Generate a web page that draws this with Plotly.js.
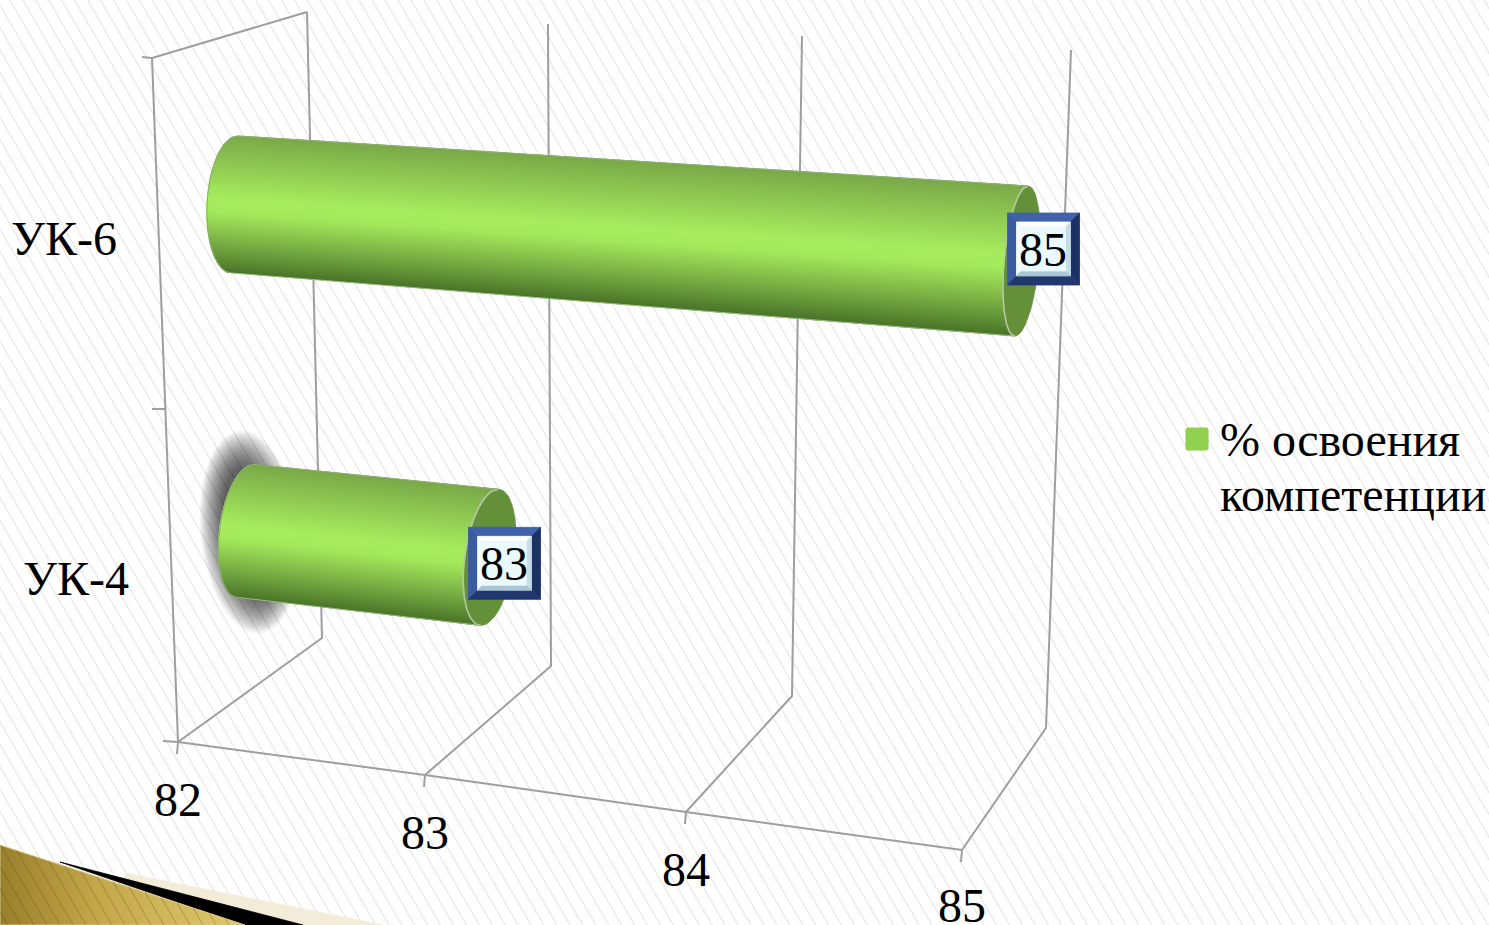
<!DOCTYPE html>
<html><head><meta charset="utf-8">
<script src="https://cdn.plot.ly/plotly-3.0.1.min.js"></script>
<style>
html,body{margin:0;padding:0;width:1489px;height:925px;overflow:hidden;background-color:#fff;
background-image:repeating-linear-gradient(60deg,#ebebeb 0,#ebebeb 1.4px,#fff 1.4px,#fff 11.2px);}
#chart{width:1489px;height:925px}
</style></head><body><div id="chart"></div>
<script>
// ---- chart data ----
const categories = ['УК-6', 'УК-4'];
const values = [85, 83];
const axisTicks = [82, 83, 84, 85];
const seriesName = '% освоения<br>компетенции';

// ---- perspective frame (pixel geometry of the 3-D box) ----
const frontFloor = [[178,742],[425,775],[686,812],[962,850]];
const backFloor  = [[322,638],[551,666],[792,696],[1046,728]];
const backTop    = [[307,12],[548,24],[802,36],[1071,50]];
const wallTop = [152,58];
const catLabelPos = [[119,238],[131,578]];
const tickLabelDrop = [57,57,57,55];
// cylinder axis at v=82 and v=85: centre, semi-axis vector, horizontal radius
const barGeom = [
  {a:{c:[235,204.5],u:[3,-68.5],r:28}, b:{c:[1021.5,261],u:[6.5,-75],r:17.5}, box:[22,-12]},
  {a:{c:[246,531],u:[7.5,-66.5],r:26.5}, b:{c:[1019,614.6],u:[10.7,-71.6],r:21.7}, box:[15,6]}
];
const shade = [[0,'#7aa848'],[.12,'#86bb4e'],[.45,'#a7ec5e'],[.55,'#a5ea5c'],[.75,'#7fb647'],[.9,'#5f8f36'],[1,'#4a7428']];

const traces = [];
const annotations = [];
const FONT = '"Liberation Serif","Times New Roman",serif';
const base = {hoverinfo:'skip', showlegend:false};
const GRID = '#9e9e9e';
const mix = (a,b,t)=>a+(b-a)*t;
// fraction along the value axis, from the tick spacing of the front edge
function axisFrac(v){
  const span = frontFloor[3][0]-frontFloor[0][0];
  const i = Math.min(Math.max(Math.floor(v-axisTicks[0]),0),2), f = v-axisTicks[i];
  return (mix(frontFloor[i][0],frontFloor[i+1][0],f)-frontFloor[0][0])/span;
}
function hex(c){return [1,3,5].map(i=>parseInt(c.substr(i,2),16));}
function ramp(p){
  for(let i=1;i<shade.length;i++) if(p<=shade[i][0]){
    const t=(p-shade[i-1][0])/(shade[i][0]-shade[i-1][0]);
    const A=hex(shade[i-1][1]),B=hex(shade[i][1]);
    return `rgb(${A.map((x,k)=>Math.round(mix(x,B[k],t))).join(',')})`;
  }
  return shade[shade.length-1][1];
}
function poly(xs,ys,color,lw){
  traces.push(Object.assign({type:'scatter',mode:'lines',x:xs,y:ys,fill:'toself',fillcolor:color,line:{color:color,width:lw===undefined?0.8:lw}},base));
}
function path(xs,ys,color,width){
  traces.push(Object.assign({type:'scatter',mode:'lines',x:xs,y:ys,line:{color:color,width:width}},base));
}

// ---- frame ----
axisTicks.forEach((v,i)=>{
  path([frontFloor[i][0],backFloor[i][0],backTop[i][0]],[frontFloor[i][1],backFloor[i][1],backTop[i][1]],GRID,2);
  path([frontFloor[i][0],frontFloor[i][0]-1],[frontFloor[i][1],frontFloor[i][1]+12],GRID,2);
  annotations.push({x:frontFloor[i][0],y:frontFloor[i][1]+tickLabelDrop[i],text:String(v),showarrow:false,xanchor:'center',yanchor:'middle',font:{family:FONT,size:48,color:'#000'}});
});
path(frontFloor.map(p=>p[0]),frontFloor.map(p=>p[1]),GRID,2);
path([frontFloor[0][0],wallTop[0],backTop[0][0]],[frontFloor[0][1],wallTop[1],backTop[0][1]],GRID,2);
[[wallTop[0]-10,wallTop[1]-1,wallTop[0],wallTop[1]],[152,409,165,409],[163,741,178,742]].forEach(t=>path([t[0],t[2]],[t[1],t[3]],GRID,2));

// ---- slide decoration, bottom-left ----
poly([125,383,125,125],[873,925,925,873],'#f3ecd9');
poly([60,303,245,60],[862,925,925,862],'#000000');
traces.push(Object.assign({type:'scatter',mode:'lines',x:[0,245,0,0],y:[845,925,925,845],fill:'toself',
  fillgradient:{type:'horizontal',colorscale:[[0,'#9a7f2c'],[.4,'#c4a84a'],[1,'#e0c86e']]},line:{color:'#d8c98e',width:1}},base));
const hx=[],hy=[];
for(let a=8;a<250;a+=13){
  let tx=(a-46.4)/0.8106, ty=845+0.3265*tx;
  if(tx<0){tx=0;ty=925-a/0.58;}
  hx.push(a,tx,null);hy.push(925,ty,null);
}
path(hx,hy,'rgba(80,60,10,0.22)',1.2);

// ---- soft shadow behind the lower bar ----
for(let k=0;k<36;k++){
  const f=k/35, rx=50-24*f, ry=102-38*f, xs=[],ys=[];
  for(let i=0;i<=48;i++){const t=i/48*2*Math.PI;xs.push(250+8*Math.cos(t)+rx*Math.sin(t));ys.push(532+ry*Math.cos(t));}
  traces.push(Object.assign({type:'scatter',mode:'lines',x:xs,y:ys,fill:'toself',fillcolor:'rgba(0,0,0,0.024)',line:{width:0}},base));
}

// ---- cylinders ----
const N=120;
categories.forEach((cat,b)=>{
  const g=barGeom[b], t=axisFrac(values[b]);
  const end={c:[mix(g.a.c[0],g.b.c[0],t),mix(g.a.c[1],g.b.c[1],t)],u:[mix(g.a.u[0],g.b.u[0],t),mix(g.a.u[1],g.b.u[1],t)],r:mix(g.a.r,g.b.r,t)};
  const pt=(e,p)=>{const co=1-2*p,si=Math.sqrt(Math.max(0,1-co*co));return [e.c[0]+e.u[0]*co-e.r*si,e.c[1]+e.u[1]*co];};
  // far end cap
  const cx=[],cy=[];
  for(let i=0;i<=72;i++){const a=i/72*2*Math.PI;cx.push(end.c[0]+end.u[0]*Math.cos(a)+end.r*Math.sin(a));cy.push(end.c[1]+end.u[1]*Math.cos(a));}
  poly(cx,cy,'#64903a');
  // body strips
  for(let i=0;i<N;i++){
    const p0=i/N,p1=(i+1)/N;
    const A=pt(g.a,p0),B=pt(end,p0),C=pt(end,p1),D=pt(g.a,p1);
    poly([A[0],B[0],C[0],D[0],A[0]],[A[1],B[1],C[1],D[1],A[1]],ramp((p0+p1)/2),1.2);
  }
  // thin edges
  const lx=[],ly=[],rx=[],ry=[];
  for(let i=0;i<=N;i++){const p=i/N;const A=pt(g.a,p),B=pt(end,p);lx.push(A[0]);ly.push(A[1]);rx.push(B[0]);ry.push(B[1]);}
  path(rx,ry,'#b4c9a0',1.6);
  path(lx,ly,'#8fae78',1);
  path([lx[0],rx[0]],[ly[0],ry[0]],'#8fae78',1);
  path([lx[N],rx[N]],[ly[N],ry[N]],'#9dbb85',1);

  // value label box with bevel
  const bx=end.c[0]+g.box[0], by=end.c[1]+g.box[1], o=36, i1=27;
  const quad=(P,c)=>poly(P.map(q=>bx+q[0]).concat(bx+P[0][0]),P.map(q=>by+q[1]).concat(by+P[0][1]),c);
  quad([[-o,-o],[o,-o],[i1,-i1],[-i1,-i1]],'#3f62aa');
  quad([[-o,-o],[-i1,-i1],[-i1,i1],[-o,o]],'#3a5ba0');
  quad([[o,-o],[o,o],[i1,i1],[i1,-i1]],'#1c3264');
  quad([[-o,o],[o,o],[i1,i1],[-i1,i1]],'#20386e');
  const i2=i1-5;
  quad([[-i1,-i1],[i1,-i1],[i2,-i2],[-i2,-i2]],'#ffffff');
  quad([[-i1,-i1],[-i2,-i2],[-i2,i2],[-i1,i1]],'#f4fbfe');
  quad([[i1,-i1],[i1,i1],[i2,i2],[i2,-i2]],'#c6dde8');
  quad([[-i1,i1],[i1,i1],[i2,i2],[-i2,i2]],'#a9c6d4');
  quad([[-i2,-i2],[i2,-i2],[i2,i2],[-i2,i2]],'#e9f9fe');
  annotations.push({x:bx-1,y:by,text:String(values[b]),showarrow:false,xanchor:'center',yanchor:'middle',font:{family:FONT,size:48,color:'#000'}});
  annotations.push({x:catLabelPos[b][0],y:catLabelPos[b][1],text:cat,showarrow:false,xanchor:'right',yanchor:'middle',font:{family:FONT,size:48,color:'#000'}});
});

// ---- legend entry ----
traces.push({type:'scatter',mode:'markers',name:seriesName,x:[-100],y:[-100],hoverinfo:'skip',showlegend:true,
  marker:{symbol:'square',size:16,color:'#92d050',line:{color:'#92d050',width:5}}});

Plotly.newPlot('chart',traces,{
  width:1489,height:925,margin:{l:0,r:0,t:0,b:0,autoexpand:false},
  paper_bgcolor:'rgba(0,0,0,0)',plot_bgcolor:'rgba(0,0,0,0)',
  xaxis:{range:[0,1489],visible:false,fixedrange:true},
  yaxis:{range:[925,0],visible:false,fixedrange:true},
  showlegend:true,
  legend:{x:1180/1489,y:1-400/925,xanchor:'left',yanchor:'top',bgcolor:'rgba(0,0,0,0)',font:{family:FONT,size:48,color:'#000'},itemclick:false,itemdoubleclick:false},
  annotations:annotations
},{displayModeBar:false,staticPlot:true}).then(gd=>{
  // tighten the legend's line pitch and align the swatch with its first line
  const lines=gd.querySelectorAll('.legendtext tspan.line');
  if(lines[1]) lines[1].setAttribute('dy','55');
  const pts=gd.querySelector('.legendpoints');
  if(pts){
    pts.querySelectorAll('path').forEach(p=>{p.style.strokeLinejoin='round';});
    pts.setAttribute('transform','scale(1.1)');
    const r=pts.getBoundingClientRect();
    pts.setAttribute('transform',`translate(${1197-(r.left+r.right)/2},${439-(r.top+r.bottom)/2}) scale(1.1)`);
  }
});
</script></body></html>
